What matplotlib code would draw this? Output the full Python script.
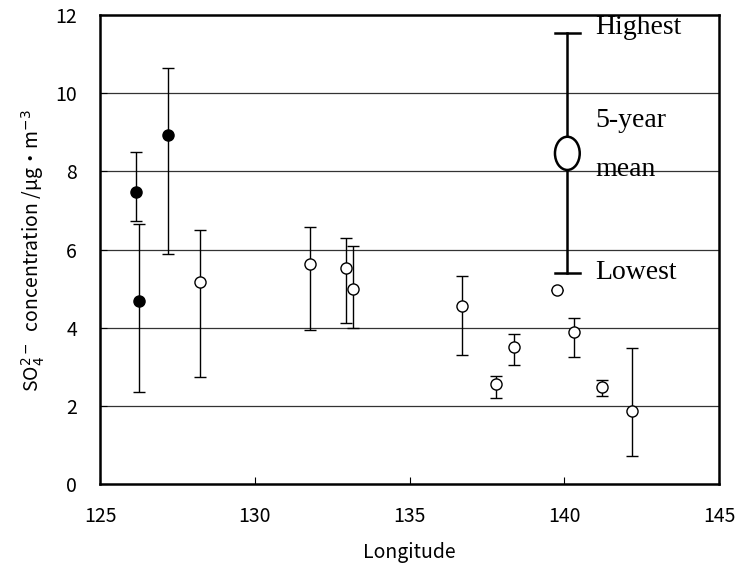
import matplotlib
matplotlib.use("Agg")
import matplotlib.pyplot as plt
from matplotlib.patches import Ellipse

plt.rcParams['font.family'] = ['Noto Sans CJK JP', 'DejaVu Sans']

# filled circles
lon_f = [126.15, 126.27, 127.2]
mean_f = [7.48, 4.68, 8.93]
hi_f = [8.50, 6.64, 10.64]
lo_f = [6.74, 2.36, 5.88]

# open circles
lon_o = [128.24, 131.79, 132.94, 133.16, 136.69, 137.78, 138.39, 139.75, 140.33, 141.21, 142.2]
mean_o = [5.16, 5.64, 5.52, 4.98, 4.55, 2.56, 3.50, 4.96, 3.89, 2.48, 1.88]
hi_o = [6.50, 6.58, 6.29, 6.09, 5.32, 2.77, 3.84, 4.96, 4.25, 2.66, 3.47]
lo_o = [2.75, 3.93, 4.11, 4.00, 3.30, 2.19, 3.05, 4.96, 3.25, 2.25, 0.72]

# legend sample
key_lon = 140.1
key_mean, key_hi, key_lo = 8.46, 11.53, 5.39
key_texts = [("Highest", 11.68), ("5-year", 9.3), ("mean", 8.05), ("Lowest", 5.4)]

fig = plt.figure(figsize=(7.4, 5.66), dpi=100)
ax = fig.add_axes([100 / 740, 82 / 566, 619 / 740, 469 / 566])

def draw(lon, mean, hi, lo, face):
    yerr = [[m - l for m, l in zip(mean, lo)], [h - m for m, h in zip(mean, hi)]]
    ax.errorbar(lon, mean, yerr=yerr, fmt='o', ms=8, mfc=face, mec='black',
                mew=1.0, ecolor='black', elinewidth=1.0, capsize=4, capthick=1.0, zorder=3)

draw(lon_f, mean_f, hi_f, lo_f, 'black')
draw(lon_o, mean_o, hi_o, lo_o, 'white')

# legend key
ax.plot([key_lon, key_lon], [key_lo, key_hi], color='black', lw=1.8, zorder=3)
for yy in (key_lo, key_hi):
    ax.plot([key_lon - 0.4, key_lon + 0.4], [yy, yy], color='black', lw=1.8, zorder=3)
ax.add_patch(Ellipse((key_lon, key_mean), 0.8, 0.85, facecolor='white',
                     edgecolor='black', lw=1.8, zorder=4))
for t, yy in key_texts:
    ax.text(141.0, yy, t, family=['Liberation Serif', 'DejaVu Serif'], fontsize=20,
            va='center', ha='left', zorder=5)

ax.set_xlim(125, 145)
ax.set_ylim(0, 12)
ax.set_xticks([125, 130, 135, 140, 145])
ax.set_yticks(range(0, 13, 2))
for g in range(2, 12, 2):
    ax.axhline(g, color='#333333', lw=0.9, zorder=1)
ax.tick_params(direction='in', length=5, width=0.8, labelsize=14)
ax.tick_params(axis='x', pad=16)
ax.tick_params(axis='y', pad=16.5)
for s in ax.spines.values():
    s.set_linewidth(1.8)

ax.set_xlabel("Longitude", fontsize=14, va='center')
ax.xaxis.set_label_coords(0.5, -0.147)
ax.set_ylabel("SO$_4^{2-}$  concentration /μg・m$^{-3}$", fontsize=14, va='center')
ax.yaxis.set_label_coords(-0.108, 0.497)

fig.savefig("out.png", dpi=100)
